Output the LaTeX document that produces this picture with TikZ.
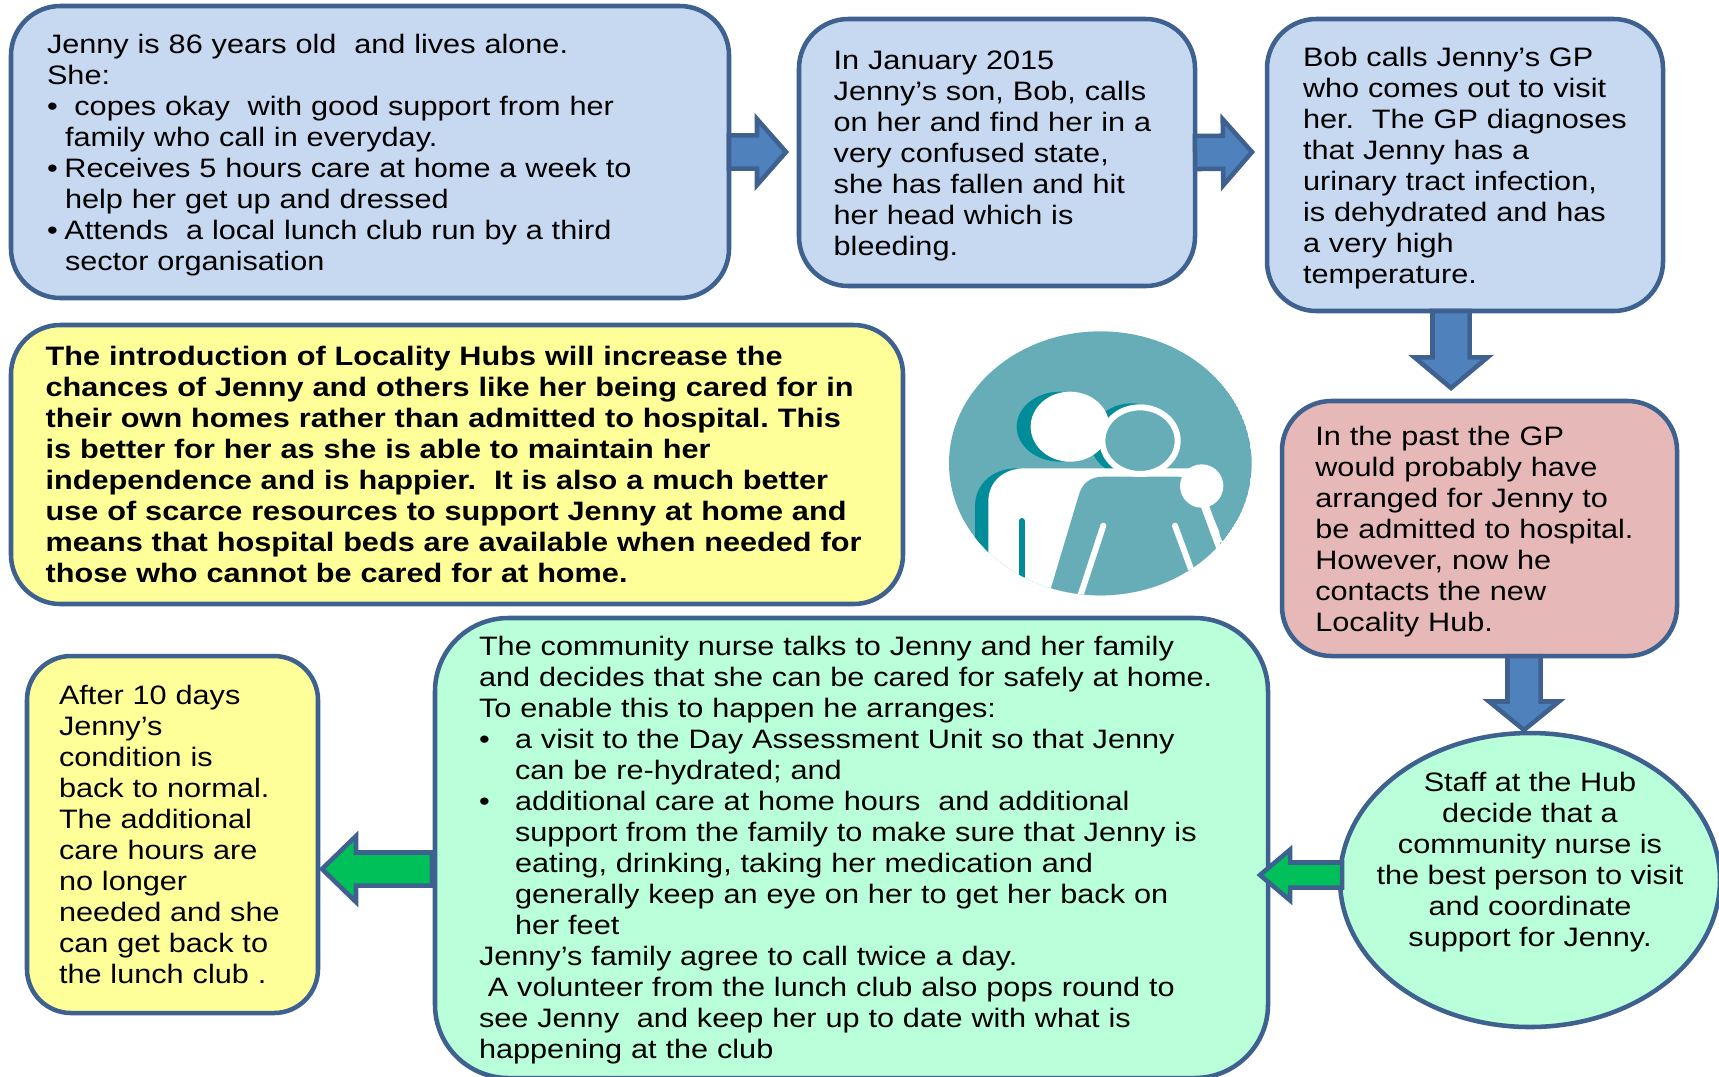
\documentclass[tikz,border=0pt]{standalone}
\usepackage{fontspec}
\setmainfont[FakeStretch=1.15]{Liberation Sans}
\usetikzlibrary{calc,shapes.geometric}
\definecolor{edgeblue}{HTML}{3E6190}
\definecolor{fillblue}{HTML}{C6D9F1}
\definecolor{fillyellow}{HTML}{FFFF99}
\definecolor{fillred}{HTML}{E6B9B8}
\definecolor{fillgreen}{HTML}{B9FFD9}
\definecolor{arrowblue}{HTML}{4F81BD}
\definecolor{arrowgreen}{HTML}{00C05A}
\definecolor{iconteal}{HTML}{66ADB8}
\definecolor{icondark}{HTML}{008C99}
\tikzset{
  tbox/.style={draw=edgeblue,line width=3.4pt,rectangle,anchor=north west,outer sep=0pt,inner ysep=0pt,
     align=left,font=\fontsize{20}{23.25}\selectfont\frenchspacing,text=black},
  barrow/.style={draw=edgeblue,line width=3.4pt,fill=arrowblue,line join=miter,miter limit=10},
  garrow/.style={draw=edgeblue,line width=3.4pt,fill=arrowgreen,line join=miter,miter limit=10},
}
\newcommand{\blockarrow}[6]{%
  \coordinate (hb) at ($(#3)!#6!(#2)$);
  \draw[#1] ($(#2)!#4!90:(#3)$) -- ($(hb)!#4!90:(#3)$) -- ($(hb)!#5!90:(#3)$) -- (#3)
     -- ($(hb)!#5!-90:(#3)$) -- ($(hb)!#4!-90:(#3)$) -- ($(#2)!#4!-90:(#3)$) -- cycle;
}
\newcommand{\hang}{\hspace*{13.5pt}}
\newcommand{\lowfirst}[1]{\rule{0pt}{#1}}
\begin{document}
\begin{tikzpicture}[x=0.75pt,y=-0.75pt]
\useasboundingbox (0,0) rectangle (1719,1076);
\clip (0,0) rectangle (1719,1076);

\node[tbox,fill=fillblue,rounded corners=37pt,minimum width=538.5pt,minimum height=219pt,inner xsep=27pt,text width=484.5pt] (b1) at (11,6)
{\lowfirst{19.5pt}Jenny is 86 years old \ and lives alone.\\
She:\\
•\hspace{12.5pt}copes okay \ with good support from her\\
\hang family who call in everyday.\\
•\hspace{5pt}Receives 5 hours care at home a week to\\
\hang help her get up and dressed\\
•\hspace{5pt}Attends \ a local lunch club run by a third\\
\hang sector organisation};

\node[tbox,fill=fillblue,rounded corners=37pt,minimum width=297pt,minimum height=200.25pt,inner xsep=26pt,text width=245pt] (b2) at (799,19)
{\lowfirst{19.5pt}In January 2015\\
Jenny’s son, Bob, calls\\
on her and find her in a\\
very confused state,\\
she has fallen and hit\\
her head which is\\
bleeding.};

\node[tbox,fill=fillblue,rounded corners=37pt,minimum width=297pt,minimum height=219pt,inner xsep=27pt,text width=243pt] (b3) at (1267,19)
{\lowfirst{19.5pt}Bob calls Jenny’s GP\\
who comes out to visit\\
her. \ The GP diagnoses\\
that Jenny has a\\
urinary tract infection,\\
is dehydrated and has\\
a very high\\
temperature.};

\node[tbox,fill=fillyellow,rounded corners=37pt,minimum width=669pt,minimum height=209.25pt,inner xsep=26pt,text width=617pt,font=\fontsize{20}{23.25}\selectfont\frenchspacing\bfseries] (hub) at (11,325)
{The introduction of Locality Hubs will increase the\\
chances of Jenny and others like her being cared for in\\
their own homes rather than admitted to hospital. This\\
is better for her as she is able to maintain her\\
independence and is happier. \ It is also a much better\\
use of scarce resources to support Jenny at home and\\
means that hospital beds are available when needed for\\
those who cannot be cared for at home.};

\node[tbox,fill=fillred,rounded corners=37pt,minimum width=296.25pt,minimum height=191.25pt,inner xsep=25pt,text width=246.25pt] (red) at (1282,401)
{\lowfirst{19.5pt}In the past the GP\\
would probably have\\
arranged for Jenny to\\
be admitted to hospital.\\
However, now he\\
contacts the new\\
Locality Hub.};

\node[tbox,fill=fillgreen,rounded corners=55pt,minimum width=624.75pt,minimum height=345pt,inner xsep=33pt,text width=558.75pt] (big) at (435,618)
{\lowfirst{17.8pt}The community nurse talks to Jenny and her family\\
and decides that she can be cared for safely at home.\\
To enable this to happen he arranges:\\
•\hspace{19pt}a visit to the Day Assessment Unit so that Jenny\\
\hspace*{27pt}can be re-hydrated; and\\
•\hspace{19pt}additional care at home hours \ and additional\\
\hspace*{27pt}support from the family to make sure that Jenny is\\
\hspace*{27pt}eating, drinking, taking her medication and\\
\hspace*{27pt}generally keep an eye on her to get her back on\\
\hspace*{27pt}her feet\\
Jenny’s family agree to call twice a day.\\
\ A volunteer from the lunch club also pops round to\\
see Jenny \ and keep her up to date with what is\\
happening at the club};

\node[tbox,fill=fillyellow,rounded corners=33pt,minimum width=218.25pt,minimum height=267.75pt,inner xsep=24pt,text width=170.25pt] (small) at (27,656)
{After 10 days\\
Jenny’s\\
condition is\\
back to normal.\\
The additional\\
care hours are\\
no longer\\
needed and she\\
can get back to\\
the lunch club .};

\node[draw=edgeblue,line width=3.4pt,fill=fillgreen,ellipse,minimum width=285pt,minimum height=220.5pt,inner sep=0pt,outer sep=0pt] (hubell) at (1530,880) {};
\node[align=center,font=\fontsize{20}{23.25}\selectfont\frenchspacing,inner sep=0pt] (hubtext) at (1530,862)
{Staff at the Hub\\
decide that a\\
community nurse is\\
the best person to visit\\
and coordinate\\
support for Jenny.};

% block arrows
\coordinate (t1) at (786,152);
\coordinate (t2) at (1252,152);
\coordinate (s3) at (1451,311);
\coordinate (t3) at (1451,388);
\coordinate (s4) at (1524,656);
\coordinate (t4) at (1524,730);
\coordinate (s5) at (1342,875);
\coordinate (t5) at (1260,875);
\coordinate (s6) at (432,869);
\coordinate (t6) at (322,869);
\blockarrow{barrow}{b1.east}{t1}{12.4pt}{24.75pt}{21.75pt}
\blockarrow{barrow}{b2.east}{t2}{12.4pt}{24.75pt}{21.75pt}
\blockarrow{barrow}{s3}{t3}{13.9pt}{27.4pt}{23pt}
\blockarrow{barrow}{s4}{t4}{12.4pt}{26.25pt}{21.4pt}
\blockarrow{garrow}{s5}{t5}{9.4pt}{19pt}{22.5pt}
\blockarrow{garrow}{s6}{t6}{12.4pt}{24.75pt}{25.5pt}

% icon
\begin{scope}[shift={(930,320)},x=0.25pt,y=-0.25pt]
  \begin{scope}
    \clip (511,430) ellipse [x radius=454,y radius=396];
    \fill[iconteal] (511,430) ellipse [x radius=454,y radius=396];
    \fill[icondark] (605,360) ellipse [x radius=125,y radius=110];
    \fill[icondark] (390,320) ellipse [x radius=130,y radius=105];
    \fill[white] (420,320) ellipse [x radius=118,y radius=105];
    \fill[icondark] (135,700) -- (135,560) .. controls (135,490) and (190,445) .. (260,445) -- (300,470) -- (175,700) -- cycle;
    \fill[icondark] (740,447) -- (790,447) -- (770,470) -- cycle;
    \fill[white] (175,700) -- (175,545) .. controls (175,485) and (220,445) .. (285,445) -- (790,445) -- (860,500) -- (880,840) -- (175,840) -- cycle;
    \draw[icondark,line width=4.5pt,line cap=round] (275,603) -- (275,770);
    \fill[iconteal] (355,830) -- (445,530) .. controls (455,490) and (480,470) .. (520,470) -- (745,470)
       .. controls (775,470) and (795,510) .. (810,555) -- (860,690) -- (860,840) -- cycle;
    \fill[iconteal] (830,550) -- (880,660) -- (990,500) -- (870,440) -- cycle;
    \draw[white,line width=4.5pt] (825,550) -- (868,668);
    \fill[white] (815,498) circle [radius=65];
    \draw[white,line width=4.5pt,line cap=round] (520,617) -- (450,830);
    \draw[white,line width=4.5pt,line cap=round] (735,617) -- (782,745);
    \draw[white,line width=4.5pt,fill=iconteal] (630,362) ellipse [x radius=113,y radius=100];
  \end{scope}
\end{scope}
\end{tikzpicture}
\end{document}
